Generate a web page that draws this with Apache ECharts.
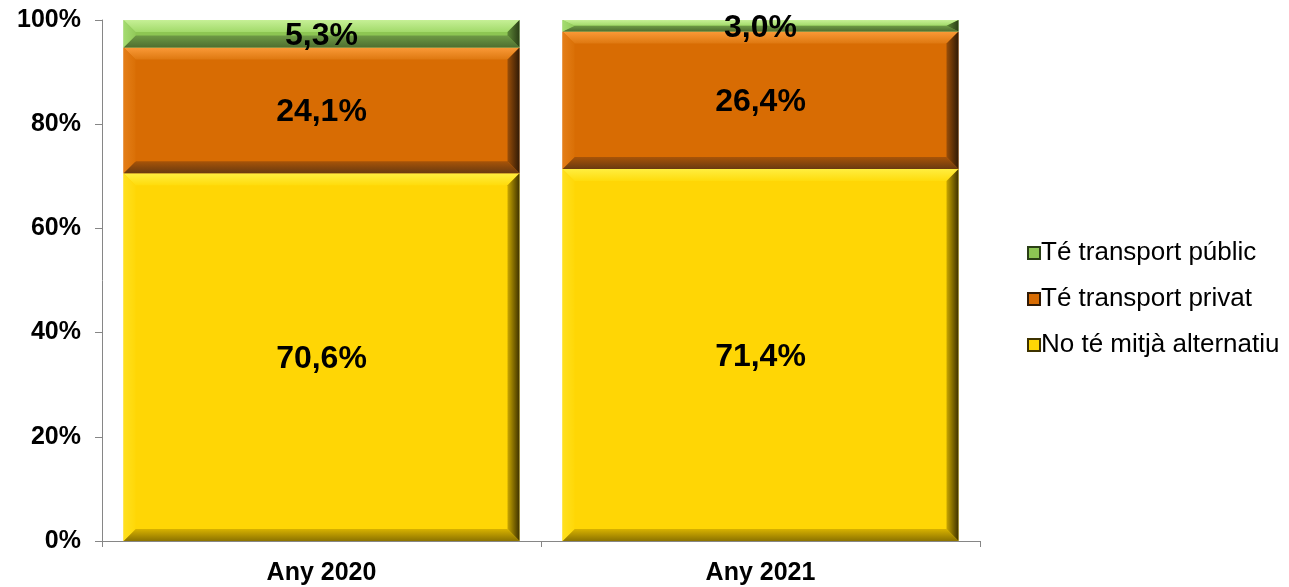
<!DOCTYPE html>
<html>
<head>
<meta charset="utf-8">
<script src="https://cdn.jsdelivr.net/npm/echarts@6/dist/echarts.min.js"></script>
<style>
  html, body { margin: 0; padding: 0; background: #fff; }
  #chart { width: 1289px; height: 587px; }
</style>
</head>
<body>
<div id="chart"></div>
<script>
// Categories and shares (%) per group
const categories = ['Any 2020', 'Any 2021'];
const noAlternative = [70.6, 71.4];     // No té mitjà alternatiu
const privateTransport = [24.1, 26.4];  // Té transport privat
const publicTransport = [5.3, 3.0];     // Té transport públic

const seriesNames = ['No té mitjà alternatiu', 'Té transport privat', 'Té transport públic'];

// Bevelled fill palettes: face, top edge, bottom edge, left edge, right edge
const palettes = [
  { face: '#FFD605', top: ['#FFEE40', '#FFDC0C'], bottom: ['#D8B200', '#8C7300'], left: ['#FFE020', '#FFD808'], right: ['#C9A600', '#3E3200'] },
  { face: '#D86C03', top: ['#FA9A38', '#DE7810'], bottom: ['#A85408', '#6A3A10'], left: ['#E47E18', '#DA7006'], right: ['#9A4E08', '#301A06'] },
  { face: '#8DC653', top: ['#C6F096', '#A2DA6A'], bottom: ['#6E9A45', '#4E6E30'], left: ['#A4DC70', '#92CA5A'], right: ['#5E8838', '#2A3E16'] }
];

const BAR_RATIO = 0.902;
const BEVEL = 12;

function fmt(v) {
  return v.toFixed(1).replace('.', ',') + '%';
}

function lin(x0, y0, x1, y1, c0, c1) {
  return new echarts.graphic.LinearGradient(x0, y0, x1, y1, [
    { offset: 0, color: c0 }, { offset: 1, color: c1 }
  ]);
}

function makeRender(pal) {
  return function (params, api) {
    const cat = api.value(0);
    const start = api.value(1);
    const end = Math.min(api.value(2), 100);
    const val = api.value(3);
    const pB = api.coord([cat, start]);
    const pT = api.coord([cat, end]);
    const w = api.size([1, 0])[0] * BAR_RATIO;
    const x0 = pB[0] - w / 2, x1 = pB[0] + w / 2;
    const yb = pB[1], yt = pT[1];
    const h = yb - yt;
    const b = Math.min(BEVEL, h / 2);
    const bx = BEVEL;
    const cy = (yt + yb) / 2;
    return {
      type: 'group',
      children: [
        { type: 'rect', shape: { x: x0, y: yt, width: w, height: h }, style: { fill: pal.face } },
        { type: 'polygon', shape: { points: [[x0, yt], [x1, yt], [x1 - bx, yt + b], [x0 + bx, yt + b]] },
          style: { fill: lin(0, 0, 0, 1, pal.top[0], pal.top[1]) } },
        { type: 'polygon', shape: { points: [[x0 + bx, yb - b], [x1 - bx, yb - b], [x1, yb], [x0, yb]] },
          style: { fill: lin(0, 0, 0, 1, pal.bottom[0], pal.bottom[1]) } },
        { type: 'polygon', shape: { points: [[x0, yt], [x0 + bx, yt + b], [x0 + bx, yb - b], [x0, yb]] },
          style: { fill: lin(0, 0, 1, 0, pal.left[0], pal.left[1]) } },
        { type: 'polygon', shape: { points: [[x1 - bx, yt + b], [x1, yt], [x1, yb], [x1 - bx, yb - b]] },
          style: { fill: lin(0, 0, 1, 0, pal.right[0], pal.right[1]) } },
        { type: 'text', x: pB[0], y: cy + 2,
          style: { text: fmt(val), fill: '#000', align: 'center', verticalAlign: 'middle',
                   font: 'bold 32px "Liberation Sans", Arial, sans-serif' } }
      ]
    };
  };
}

const stacks = [noAlternative, privateTransport, publicTransport];
const base = categories.map(() => 0);
const series = stacks.map((vals, si) => {
  const data = vals.map((v, ci) => {
    const s = base[ci];
    base[ci] += v;
    return [ci, s, s + v, v];
  });
  return {
    type: 'custom',
    name: seriesNames[si],
    renderItem: makeRender(palettes[si]),
    itemStyle: { color: palettes[si].face, borderColor: palettes[si].right[1], borderWidth: 1 },
    encode: { x: 0, y: [1, 2] },
    data: data,
    z: 2 + si
  };
});

const chart = echarts.init(document.getElementById('chart'), null, { renderer: 'canvas' });
chart.setOption({
  animation: false,
  backgroundColor: '#fff',
  textStyle: { fontFamily: '"Liberation Sans", Arial, sans-serif' },
  grid: { left: 102, right: 309, top: 20, bottom: 46, containLabel: false },
  legend: {
    orient: 'vertical',
    left: 1022,
    top: 235,
    itemWidth: 12,
    itemHeight: 12,
    itemGap: 20,
    icon: 'rect',
    data: ['Té transport públic', 'Té transport privat', 'No té mitjà alternatiu'],
    textStyle: { fontSize: 26, color: '#000', padding: [0, 0, 0, -4] }
  },
  xAxis: {
    type: 'category',
    data: categories,
    axisLine: { lineStyle: { color: '#868686', width: 1 } },
    axisTick: { show: true, length: 6, lineStyle: { color: '#868686' } },
    axisLabel: { color: '#000', fontWeight: 'bold', fontSize: 25, margin: 20 }
  },
  yAxis: {
    type: 'value',
    min: 0,
    max: 100,
    interval: 20,
    axisLine: { show: true, lineStyle: { color: '#868686', width: 1 } },
    axisTick: { show: true, length: 7, lineStyle: { color: '#868686' } },
    splitLine: { show: false },
    axisLabel: { color: '#000', fontWeight: 'bold', fontSize: 25, margin: 21, formatter: '{value}%' }
  },
  series: series
});
</script>
</body>
</html>
